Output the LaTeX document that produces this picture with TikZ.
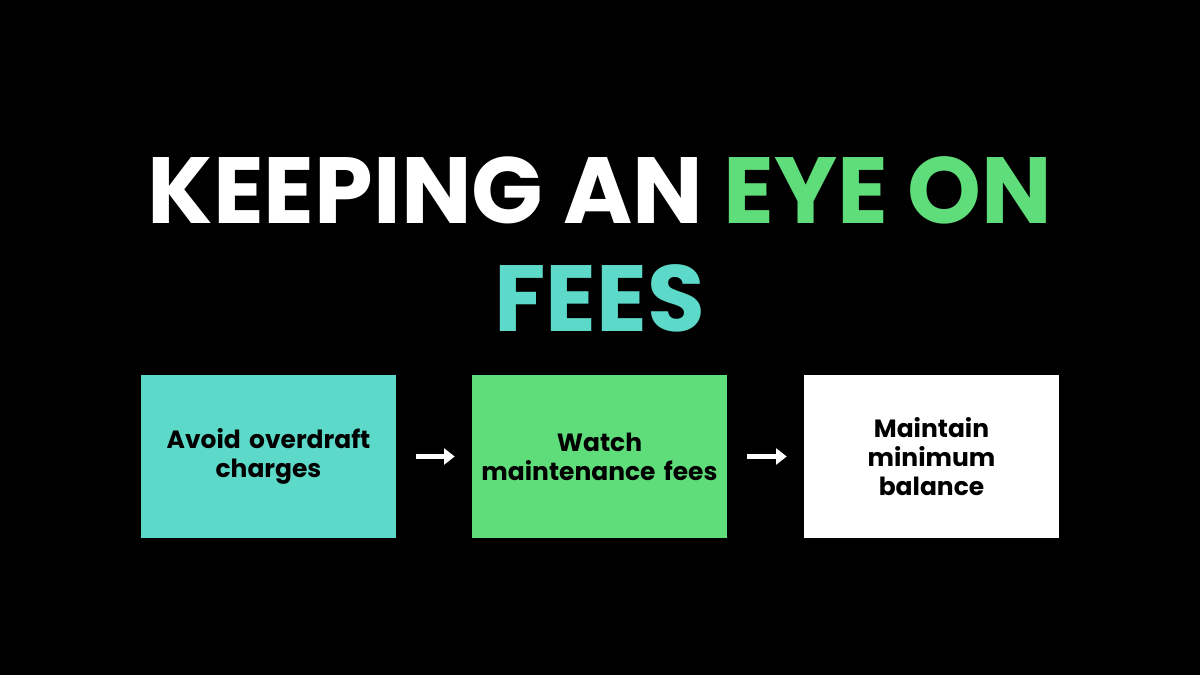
\documentclass[tikz,border=0pt]{standalone}
\usepackage{fontspec}
\setmainfont{Poppins}[BoldFont={* Bold}]
\usetikzlibrary{arrows.meta}
\definecolor{teal}{HTML}{5DD9C9}
\definecolor{grn}{HTML}{5FDD7A}
\begin{document}
\begin{tikzpicture}[x=0.02cm,y=-0.02cm,
  box/.style={minimum width=5.1cm,minimum height=3.26cm,inner sep=0pt,align=center,text width=5cm,
    font=\fontsize{14.2}{16.5}\selectfont\bfseries,text=black},
  arr/.style={white,line width=2.5pt,-{Triangle[length=6pt,width=9pt]}},
  title/.style={font=\fontsize{53.5}{70}\selectfont\bfseries}]
\fill[black] (0,0) rectangle (1200,675);
\node[title,text=white,anchor=base] (t1) at (600,224) {KEEPING AN \textcolor{grn}{EYE ON}};
\node[title,text=teal,anchor=base] (t2) at (600,332) {FEES};
\node[box,fill=teal] (b1) at (268.5,456.5) {Avoid overdraft\\charges};
\node[box,fill=grn] (b2) at (599.5,456.5) {Watch\\maintenance fees};
\node[box,fill=white] (b3) at (931.5,456.5) {Maintain\\minimum\\balance};
\draw[arr] ([xshift=0.4cm]b1.east) -- ([xshift=-0.34cm]b2.west);
\draw[arr] ([xshift=0.4cm]b2.east) -- ([xshift=-0.34cm]b3.west);
\end{tikzpicture}
\end{document}
